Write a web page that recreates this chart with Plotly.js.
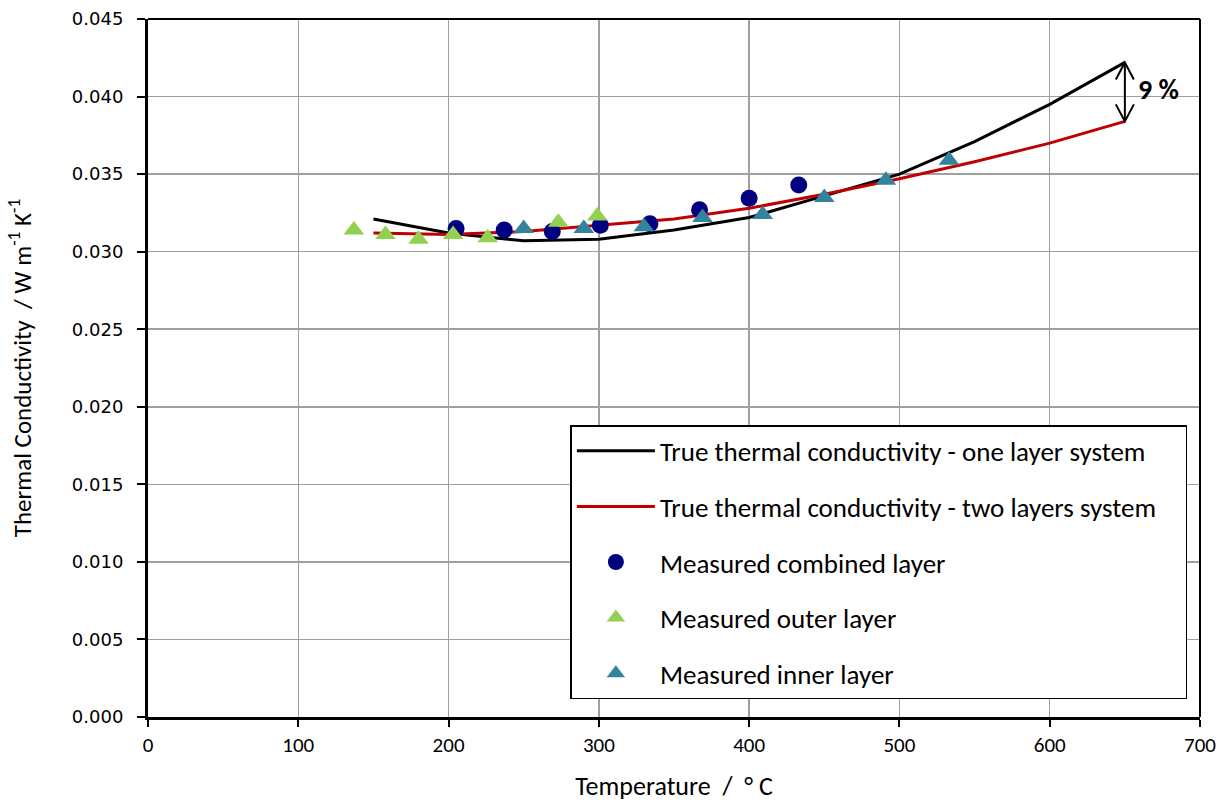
<!DOCTYPE html>
<html>
<head>
<meta charset="utf-8">
<script src="https://cdn.plot.ly/plotly-3.0.1.min.js"></script>
<style>html,body{margin:0;padding:0;background:#fff;}#chart{width:1227px;height:802px;}</style>
</head>
<body>
<div id="chart"></div>
<script>
// Temperatures (°C) for the model curves
const lineTemps = [150, 200, 250, 300, 350, 400, 450, 500, 550, 600, 650];
const oneLayer = [0.0321, 0.0312, 0.0307, 0.0308, 0.0314, 0.0322, 0.0336, 0.0350, 0.0371, 0.0395, 0.0422];
const twoLayers = [0.0312, 0.0311, 0.0313, 0.0317, 0.0321, 0.0328, 0.0337, 0.0347, 0.0358, 0.0370, 0.0384];

const combinedT = [205, 237, 269, 301, 334, 367, 400, 433];
const combinedK = [0.0315, 0.0314, 0.0313, 0.0317, 0.0318, 0.0327, 0.03345, 0.0343];

const outerT = [137, 158, 180, 203, 226, 273, 299];
const outerK = [0.0314, 0.0311, 0.0308, 0.0311, 0.0309, 0.0319, 0.0323];

const innerT = [250, 290, 330, 369, 409, 450, 491, 533];
const innerK = [0.0315, 0.0315, 0.0316, 0.0322, 0.0324, 0.0335, 0.0346, 0.0359];

const xTicks = [0, 100, 200, 300, 400, 500, 600, 700];
const yTicks = [0, 0.005, 0.010, 0.015, 0.020, 0.025, 0.030, 0.035, 0.040, 0.045];

const FONT = "Carlito, Lato, 'Open Sans', sans-serif";

const traces = [
  {x: lineTemps, y: oneLayer, mode: 'lines', name: 'True thermal conductivity - one layer system',
   line: {color: '#000000', width: 3}, legendgroup: 'a'},
  {x: lineTemps, y: twoLayers, mode: 'lines', name: 'True thermal conductivity - two layers system\u00a0\u00a0\u00a0\u00a0',
   line: {color: '#C00000', width: 3}, legendgroup: 'b'},
  {x: combinedT, y: combinedK, mode: 'markers', name: 'Measured combined layer',
   marker: {color: '#000080', size: 17, symbol: 'circle'}, legendgroup: 'c'},
  {x: outerT, y: outerK, mode: 'markers', name: 'Measured outer layer',
   marker: {color: '#92D050', size: 18, symbol: 'triangle-up'}, legendgroup: 'd'},
  {x: innerT, y: innerK, mode: 'markers', name: 'Measured inner layer',
   marker: {color: '#31849B', size: 18, symbol: 'triangle-up'}, legendgroup: 'e'}
];

const last = lineTemps.length - 1;
const ax = lineTemps[last];
const yTop = oneLayer[last];
const yBot = twoLayers[last];

const layout = {
  width: 1227, height: 802,
  margin: {l: 148, r: 27, t: 19, b: 85},
  paper_bgcolor: '#ffffff', plot_bgcolor: '#ffffff',
  showlegend: true,
  legend: {
    x: 0.4015, y: 0.418, xanchor: 'left', yanchor: 'top',
    bordercolor: '#000000', borderwidth: 1.5, bgcolor: '#ffffff',
    font: {family: FONT, size: 27, color: '#000000'},
    tracegroupgap: 17.5, traceorder: 'grouped', itemwidth: 78
  },
  xaxis: {
    range: [0, 700], tickvals: xTicks, ticktext: xTicks.map(String),
    showgrid: true, gridcolor: '#a0a0a0', gridwidth: 1.5,
    showline: true, linecolor: '#000000', linewidth: 3, mirror: false,
    ticks: 'outside', ticklen: 7, tickwidth: 2, tickcolor: '#000000',
    tickfont: {family: FONT, size: 21, color: '#000000'},
    zeroline: false,
    title: {text: 'Temperature  /  ° C', font: {family: FONT, size: 26, color: '#000000'}, standoff: 22}
  },
  yaxis: {
    range: [0, 0.045], tickvals: yTicks, tickformat: '.3f',
    showgrid: true, gridcolor: '#a0a0a0', gridwidth: 1.5,
    showline: true, linecolor: '#000000', linewidth: 3,
    ticks: 'outside', ticklen: 8, tickwidth: 2, tickcolor: '#000000',
    ticklabelstandoff: 10,
    tickfont: {family: "'DejaVu Sans', Verdana, sans-serif", size: 18, color: '#000000'},
    zeroline: false,
    title: {text: 'Thermal Conductivity  / W m<sup>-1</sup> K<sup>-1</sup>', font: {family: FONT, size: 25, color: '#000000'}, standoff: 34}
  },
  shapes: [
    // top and right frame
    {type: 'line', xref: 'paper', yref: 'paper', x0: 0, x1: 1, y0: 1, y1: 1, line: {color: '#000', width: 2}},
    {type: 'line', xref: 'paper', yref: 'paper', x0: 1, x1: 1, y0: 0, y1: 1, line: {color: '#000', width: 2}},
    // double arrow shaft
    {type: 'line', xref: 'x', yref: 'y', x0: ax, x1: ax, y0: yTop, y1: yBot, line: {color: '#000', width: 2}},
    // arrow heads (open V)
    {type: 'path', xref: 'x', yref: 'y', xsizemode: 'pixel', ysizemode: 'pixel', xanchor: ax, yanchor: yTop,
     path: 'M -9,-17 L 0,0 L 9,-17', line: {color: '#000', width: 2}},
    {type: 'path', xref: 'x', yref: 'y', xsizemode: 'pixel', ysizemode: 'pixel', xanchor: ax, yanchor: yBot,
     path: 'M -9,17 L 0,0 L 9,17', line: {color: '#000', width: 2}}
  ],
  annotations: [
    {x: ax, y: (yTop + yBot) / 2, xref: 'x', yref: 'y', text: '<b>9 %</b>', showarrow: false,
     xanchor: 'left', yanchor: 'middle', xshift: 11, yshift: 2, font: {family: FONT, size: 28, color: '#000'}}
  ]
};

Plotly.newPlot('chart', traces, layout, {displayModeBar: false, staticPlot: true});
</script>
</body>
</html>
